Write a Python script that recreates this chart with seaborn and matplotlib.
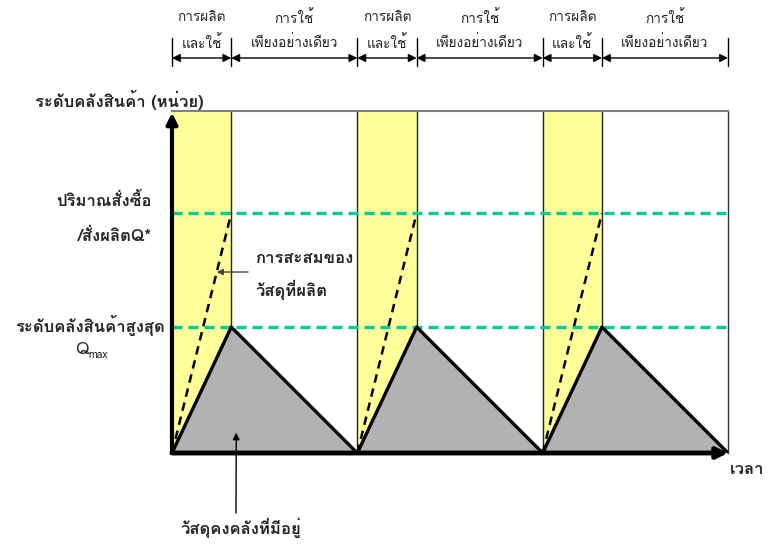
import matplotlib
matplotlib.use("Agg")
import matplotlib.pyplot as plt
import numpy as np
import pandas as pd
import seaborn as sns

# Production/consumption cycle parameters (time units, inventory units)
cycle_starts = [0.0, 6.0, 12.0]
cycle_length = 6.0
production_time = 1.92
order_qty = 1000.0        # Q*
max_inventory = 525.0     # Qmax
y_top = 1425.0

phase_labels_prod = ["การผลิต", "และใช้"]
phase_labels_use = ["การใช้", "เพียงอย่างเดียว"]

sns.set_theme(style="white")
plt.rcParams["font.family"] = ["Loma", "Noto Sans Thai Looped", "DejaVu Sans"]

W, H = 775, 549
fig = plt.figure(figsize=(W / 100, H / 100), dpi=100)


def fx(px):
    return px / W


def fy(py):
    return 1 - py / H


ax = fig.add_axes([fx(172), fy(453), fx(728) - fx(172), fy(111) - fy(453)])
ax.set_xlim(0, cycle_starts[-1] + cycle_length)
ax.set_ylim(0, y_top)

# Inventory saw-tooth: rise during production, fall during use-only phase
rows = []
for i, s in enumerate(cycle_starts):
    for t, q in [(s, 0.0), (s + production_time, max_inventory), (s + cycle_length, 0.0)]:
        rows.append({"cycle": i, "time": t, "inventory": q})
inv = pd.DataFrame(rows)

# Cumulative production lines (0 -> Q* over the production phase)
acc_rows = []
for i, s in enumerate(cycle_starts):
    acc_rows.append({"cycle": i, "time": s, "produced": 0.0})
    acc_rows.append({"cycle": i, "time": s + production_time, "produced": order_qty})
acc = pd.DataFrame(acc_rows)

yellow = "#FFFF99"
for s in cycle_starts:
    ax.axvspan(s, s + production_time, color=yellow, lw=0, zorder=0)
    ax.axvline(s + production_time, color="#222222", lw=1.0, zorder=1)
    if s > 0:
        ax.axvline(s, color="#222222", lw=1.0, zorder=1)

for i, g in inv.groupby("cycle"):
    ax.fill_between(g["time"], 0, g["inventory"], color="#B2B2B2", lw=0, zorder=2)

sns.lineplot(data=inv, x="time", y="inventory", units="cycle", estimator=None,
             sort=False, color="black", lw=2.4, ax=ax, zorder=4)
sns.lineplot(data=acc, x="time", y="produced", units="cycle", estimator=None,
             sort=False, color="black", lw=1.8, ax=ax, zorder=3,
             linestyle=(0, (3.4, 2.4)))

teal = "#00CC99"
for lvl in [max_inventory, order_qty]:
    ax.axhline(lvl, color=teal, lw=2.4, linestyle=(0, (3.0, 1.8)), zorder=3)

ax.set_xlabel("")
ax.set_ylabel("")
ax.set_xticks([])
ax.set_yticks([])
for side in ["left", "bottom"]:
    ax.spines[side].set_visible(False)
ax.spines["top"].set_color("#808080")
ax.spines["top"].set_linewidth(1.5)
ax.spines["right"].set_color("#333333")
ax.spines["right"].set_linewidth(1.0)

# Axis arrows
ax.annotate("", xy=(0, 0.995), xytext=(0, 0), xycoords="axes fraction",
            arrowprops=dict(arrowstyle="-|>", lw=3, color="black",
                            mutation_scale=16, shrinkA=0, shrinkB=0), zorder=6)
ax.annotate("", xy=(1.0, 0), xytext=(0, 0), xycoords="axes fraction",
            arrowprops=dict(arrowstyle="-|>", lw=3.5, color="black",
                            mutation_scale=16, shrinkA=0, shrinkB=0), zorder=6)

# Phase brackets above the plot
bounds = []
for s in cycle_starts:
    bounds += [s, s + production_time]
bounds.append(cycle_starts[-1] + cycle_length)

ah = 453
def afy(py):
    return (ah - py) / (453 - 111)

trans = ax.get_xaxis_transform()
for b in bounds:
    ax.plot([b, b], [afy(38), afy(66)], color="black", lw=1.0,
            transform=trans, clip_on=False)
for a, b in zip(bounds[:-1], bounds[1:]):
    ax.annotate("", xy=(b, afy(58)), xytext=(a, afy(58)),
                xycoords=trans, annotation_clip=False,
                arrowprops=dict(arrowstyle="<|-|>", lw=1.0, color="black",
                                mutation_scale=12, shrinkA=0, shrinkB=0))
for k, (a, b) in enumerate(zip(bounds[:-1], bounds[1:])):
    labels = phase_labels_prod if k % 2 == 0 else phase_labels_use
    mid = (a + b) / 2
    ax.text(mid, afy(18), labels[0], transform=trans, ha="center", va="center",
            fontsize=9.8, color="#222222")
    ax.text(mid, afy(43), labels[1], transform=trans, ha="center", va="center",
            fontsize=9.8, color="#222222")

# Left-side labels
fs = 12
fig.text(fx(35), fy(100), "ระดับคลังสินค้า (หน่วย)", ha="left", va="center",
         fontsize=fs, fontweight="bold")
fig.text(fx(152), fy(201), "ปริมาณสั่งซื้อ", ha="right", va="center",
         fontsize=fs, fontweight="bold")
fig.text(fx(152), fy(236), "/สั่งผลิตQ*", ha="right", va="center",
         fontsize=fs, fontweight="bold")
fig.text(fx(165), fy(325), "ระดับคลังสินค้าสูงสุด", ha="right", va="center",
         fontsize=fs, fontweight="bold")
fig.text(fx(75), fy(350), "Q", ha="left", va="center", fontsize=12.5)
fig.text(fx(88), fy(355), "max", ha="left", va="center", fontsize=7.5)

# Callouts
f = 0.754
ax.annotate("", xy=(production_time * f, order_qty * f),
            xytext=(fx(248), fy(272)), textcoords="figure fraction",
            arrowprops=dict(arrowstyle="-|>", lw=1.0, color="#444444",
                            mutation_scale=9, shrinkA=0, shrinkB=0))
fig.text(fx(255), fy(258), "การสะสมของ", ha="left", va="center",
         fontsize=fs, fontweight="bold")
fig.text(fx(255), fy(290), "วัสดุที่ผลิต", ha="left", va="center",
         fontsize=fs, fontweight="bold")

ax.annotate("", xy=(2.08, 85), xytext=(fx(236), fy(513)),
            textcoords="figure fraction",
            arrowprops=dict(arrowstyle="-|>", lw=1.0, color="black",
                            mutation_scale=10, shrinkA=0, shrinkB=0))
fig.text(fx(180), fy(528), "วัสดุคงคลังที่มีอยู่", ha="left", va="center",
         fontsize=fs, fontweight="bold")
fig.text(fx(730), fy(470), "เวลา", ha="left", va="center",
         fontsize=fs, fontweight="bold")

fig.savefig("out.png", dpi=100)
